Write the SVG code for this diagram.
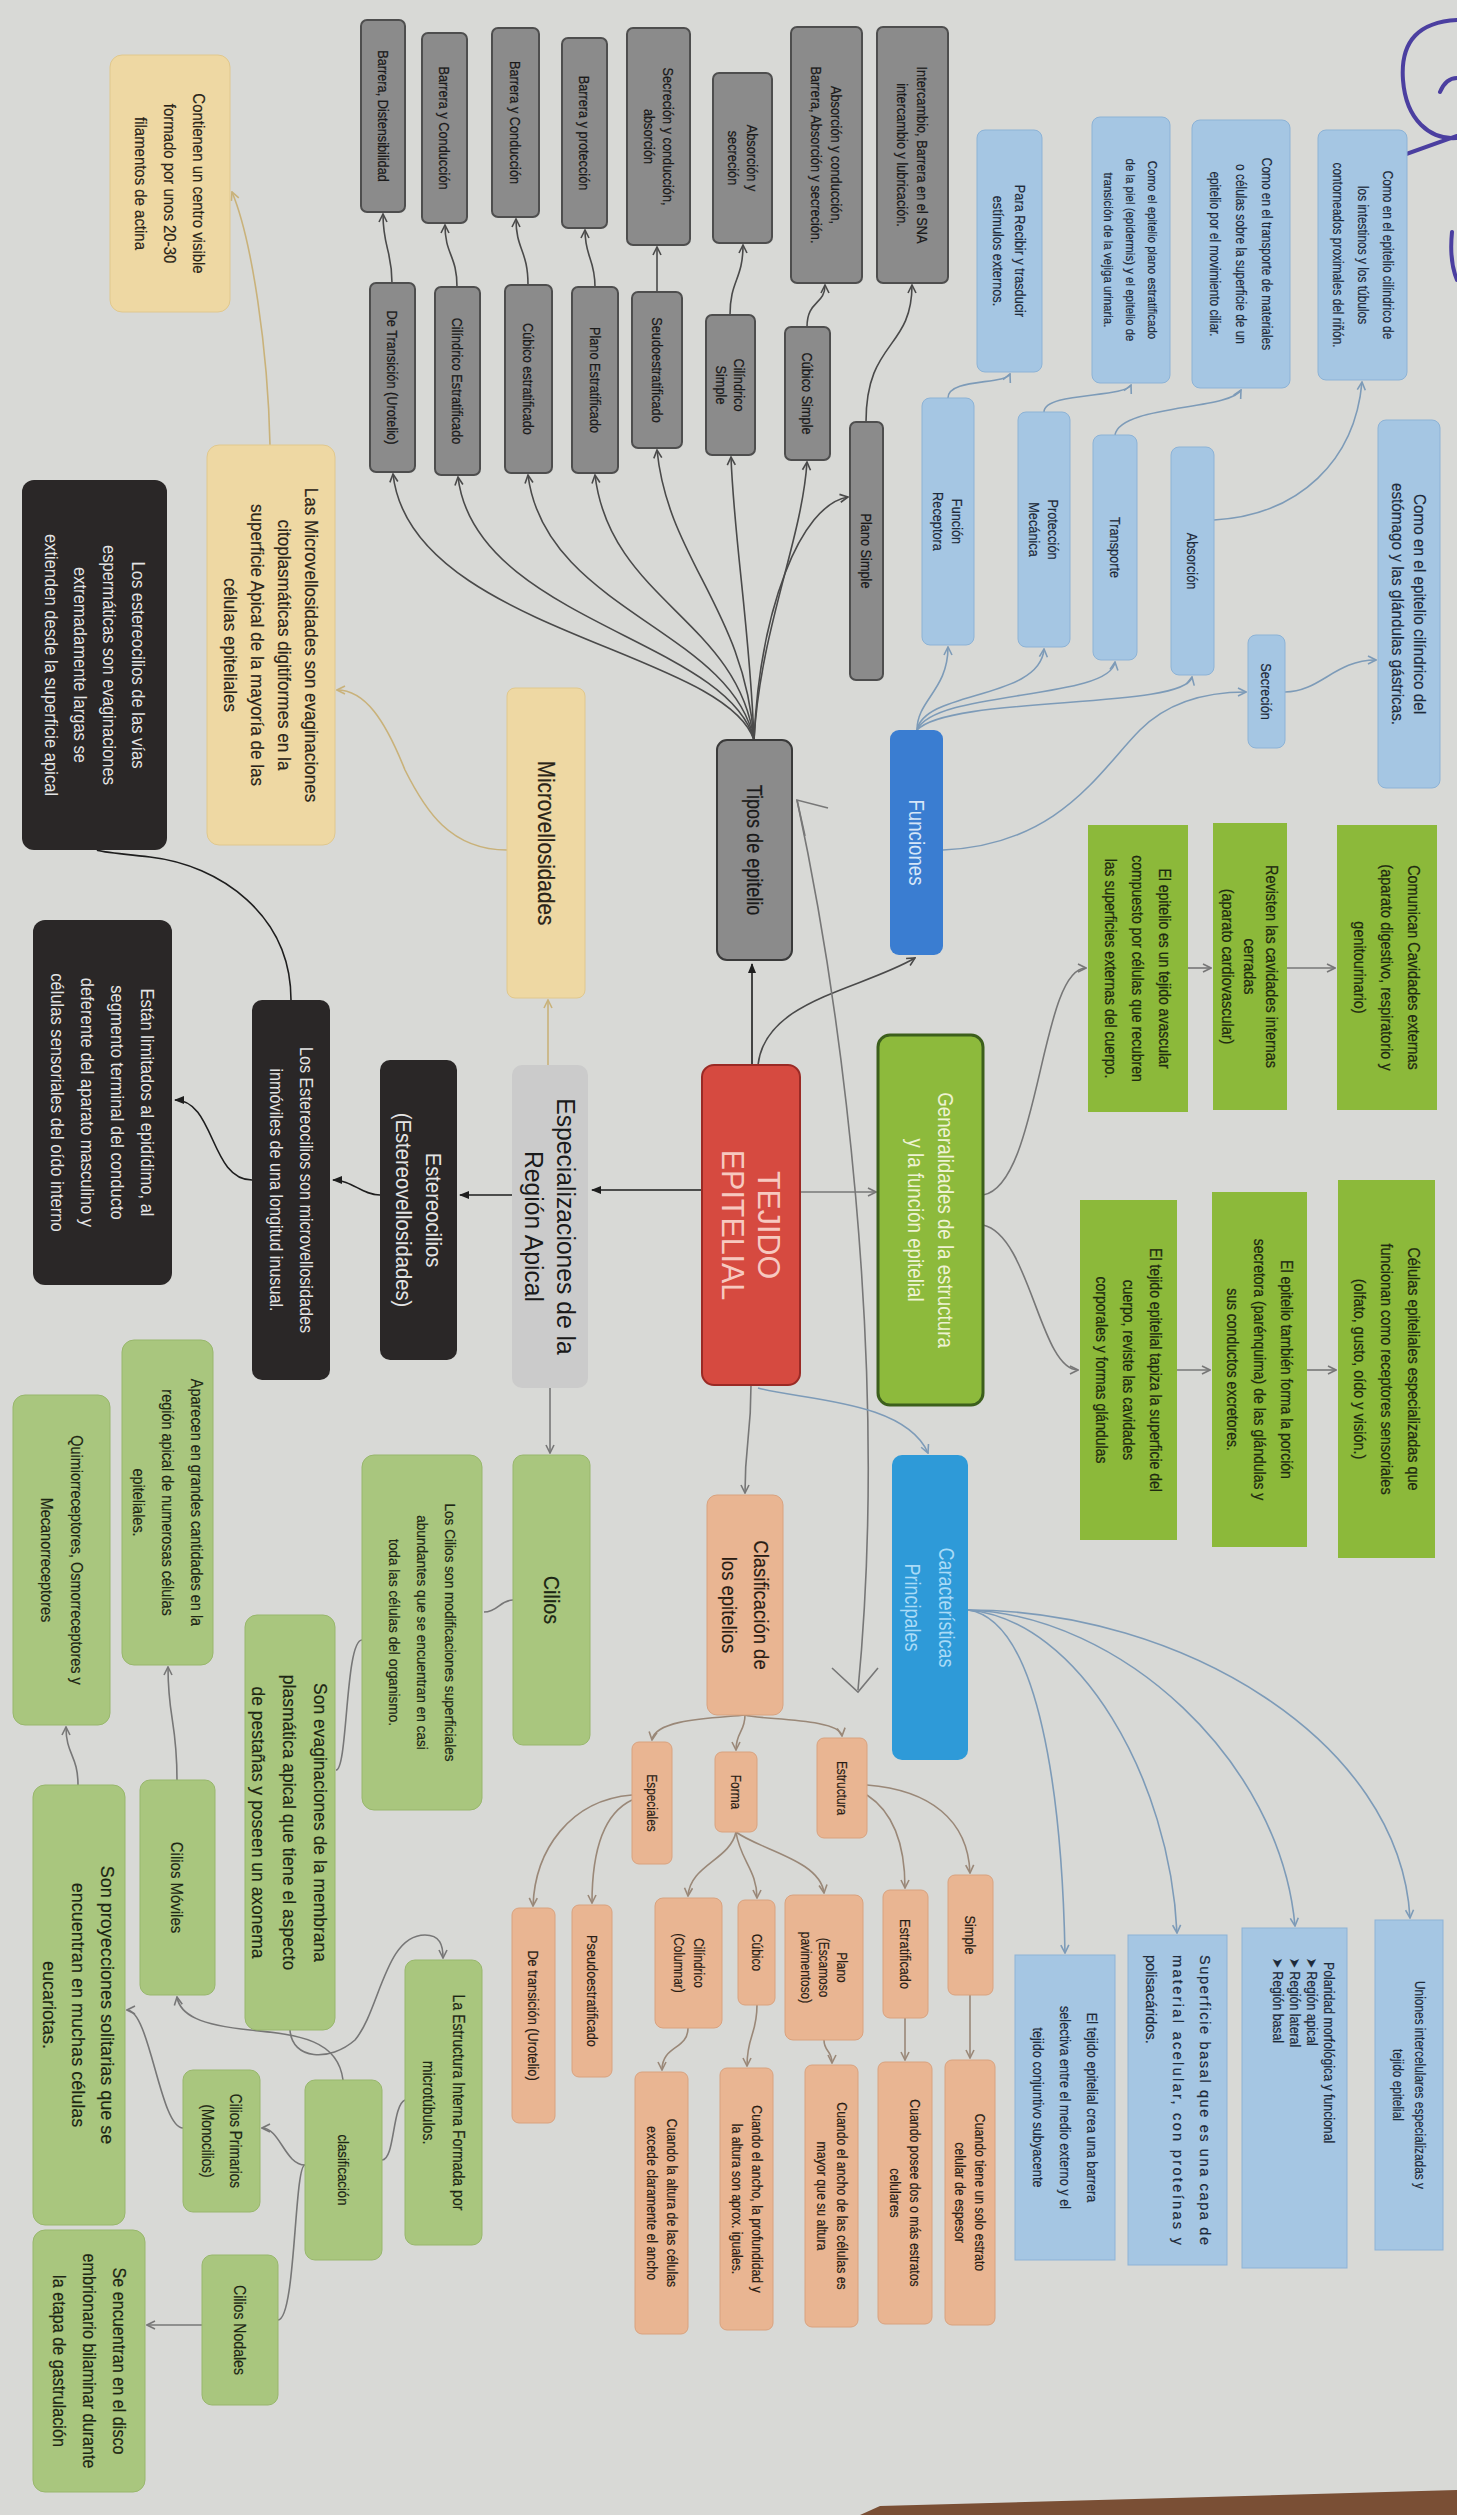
<svg xmlns="http://www.w3.org/2000/svg" width="1457" height="2515" viewBox="0 0 1457 2515">
<style>
text{font-family:"Liberation Sans",Arial,sans-serif;text-anchor:middle}
.g rect{fill:#8b8b8b;stroke:#4e4e4e;stroke-width:2}
.g text{fill:#1a1a1a;stroke:#1a1a1a;stroke-width:0.25}
.b rect{fill:#a5c6e3;stroke:#8db3d6;stroke-width:1}
.b text{fill:#1d2a3a;stroke:#1d2a3a;stroke-width:0.2}
.gr rect{fill:#8cb93a}
.gr text{fill:#1e2a10;stroke:#1e2a10;stroke-width:0.25}
.gp rect{fill:#a9c67e;stroke:#98b76c;stroke-width:1}
.gp text{fill:#1d2614;stroke:#1d2614;stroke-width:0.2}
.bk rect{fill:#2a2727}
.bk text{fill:#e4e4e4}
.y rect{fill:#eed8a3;stroke:#e0c88e;stroke-width:1}
.y text{fill:#2a2418;stroke:#2a2418;stroke-width:0.2}
.s rect{fill:#e9b592;stroke:#d9a27e;stroke-width:1}
.s text{fill:#2a1d14;stroke:#2a1d14;stroke-width:0.2}
.c path{fill:none;stroke-width:1.6}
.dk{stroke:#4a4a4a}
.bl{stroke:#7d9bb8}
.gy{stroke:#777}
.tn{stroke:#c9b27a}
.kk{stroke:#1e1e1e}
.br{stroke:#9a8878}
</style>
<defs>
<marker id="m-dk" viewBox="0 0 10 10" refX="9" refY="5" markerWidth="10" markerHeight="10" markerUnits="userSpaceOnUse" orient="auto"><path d="M1,1 L9,5 L1,9" fill="none" stroke="#4a4a4a" stroke-width="1.6"/></marker>
<marker id="m-bl" viewBox="0 0 10 10" refX="9" refY="5" markerWidth="10" markerHeight="10" markerUnits="userSpaceOnUse" orient="auto"><path d="M1,1 L9,5 L1,9" fill="none" stroke="#7d9bb8" stroke-width="1.6"/></marker>
<marker id="m-gy" viewBox="0 0 10 10" refX="9" refY="5" markerWidth="10" markerHeight="10" markerUnits="userSpaceOnUse" orient="auto"><path d="M1,1 L9,5 L1,9" fill="none" stroke="#777" stroke-width="1.6"/></marker>
<marker id="m-tn" viewBox="0 0 10 10" refX="9" refY="5" markerWidth="10" markerHeight="10" markerUnits="userSpaceOnUse" orient="auto"><path d="M1,1 L9,5 L1,9" fill="none" stroke="#c9b27a" stroke-width="1.6"/></marker>
<marker id="m-br" viewBox="0 0 10 10" refX="9" refY="5" markerWidth="10" markerHeight="10" markerUnits="userSpaceOnUse" orient="auto"><path d="M1,1 L9,5 L1,9" fill="none" stroke="#9a8878" stroke-width="1.6"/></marker>
<marker id="m-kk" viewBox="0 0 10 10" refX="9" refY="5" markerWidth="10" markerHeight="10" markerUnits="userSpaceOnUse" orient="auto"><path d="M0,1 L10,5 L0,9 z" fill="#1e1e1e"/></marker>
</defs>
<rect width="1457" height="2515" fill="#d8d9d6"/>
<polygon points="860,2515 880,2506 1457,2490 1457,2515" fill="#7a4f35"/>
<g id="pen" fill="none" stroke="#4b3fa0" stroke-width="4" stroke-linecap="round">
<path d="M1457,20 C1420,22 1400,40 1403,80 C1406,120 1430,140 1457,138"/>
<path d="M1457,136 L1356,172"/>
<path d="M1440,92 C1445,80 1452,78 1457,78"/>
<path d="M1452,232 C1450,252 1452,268 1457,280"/>
</g>

<g id="connectors" class="c">
<path class="dk" marker-end="url(#m-dk)" d="M754,740 C760,610 800,505 848,497"/>
<path class="dk" marker-end="url(#m-dk)" d="M754,740 C760,630 802,540 807,462"/>
<path class="dk" marker-end="url(#m-dk)" d="M754,740 C750,630 734,540 731,457"/>
<path class="dk" marker-end="url(#m-dk)" d="M754,740 C745,610 668,560 657,450"/>
<path class="dk" marker-end="url(#m-dk)" d="M754,740 C738,620 610,600 595,475"/>
<path class="dk" marker-end="url(#m-dk)" d="M754,740 C732,630 545,610 528,475"/>
<path class="dk" marker-end="url(#m-dk)" d="M754,740 C728,640 475,620 458,477"/>
<path class="dk" marker-end="url(#m-dk)" d="M754,740 C724,650 410,630 393,474"/>
<path class="dk" marker-end="url(#m-dk)" d="M392,283 C392,250 383,248 383,214"/>
<path class="dk" marker-end="url(#m-dk)" d="M457,287 C457,255 445,255 445,225"/>
<path class="dk" marker-end="url(#m-dk)" d="M528,285 C528,250 516,250 516,219"/>
<path class="dk" marker-end="url(#m-dk)" d="M595,287 C595,258 585,258 585,230"/>
<path class="dk" marker-end="url(#m-dk)" d="M657,292 L657,247"/>
<path class="dk" marker-end="url(#m-dk)" d="M730,315 C730,280 743,280 743,245"/>
<path class="dk" marker-end="url(#m-dk)" d="M807,327 C807,300 825,305 825,285"/>
<path class="dk" marker-end="url(#m-dk)" d="M866,422 C866,340 912,350 912,285"/>
<path class="bl" marker-end="url(#m-bl)" d="M917,730 C917,700 948,690 948,647"/>
<path class="bl" marker-end="url(#m-bl)" d="M917,730 C925,690 1040,700 1044,649"/>
<path class="bl" marker-end="url(#m-bl)" d="M917,730 C935,690 1110,700 1115,662"/>
<path class="bl" marker-end="url(#m-bl)" d="M917,730 C950,695 1185,710 1192,677"/>
<path class="bl" marker-end="url(#m-bl)" d="M943,850 C1060,845 1100,770 1140,730 C1170,700 1210,692 1246,692"/>
<path class="bl" marker-end="url(#m-bl)" d="M948,398 C948,378 1005,385 1010,374"/>
<path class="bl" marker-end="url(#m-bl)" d="M1044,412 C1044,392 1125,398 1131,385"/>
<path class="bl" marker-end="url(#m-bl)" d="M1115,435 C1120,405 1230,410 1241,390"/>
<path class="bl" marker-end="url(#m-bl)" d="M1214,520 C1300,515 1355,460 1362,382"/>
<path class="bl" marker-end="url(#m-bl)" d="M1285,692 C1320,692 1335,660 1376,660"/>
<path class="kk" stroke-width="3.5" marker-end="url(#m-kk)" d="M752,1065 L752,964"/>
<path class="dk" marker-end="url(#m-dk)" d="M758,1065 C765,1000 860,990 915,958"/>
<path class="kk" stroke-width="2.5" marker-end="url(#m-kk)" d="M702,1190 L592,1190"/>
<path class="gy" marker-end="url(#m-gy)" d="M800,1192 L876,1192"/>
<path class="gy" d="M797,800 C840,1000 890,1360 858,1690"/>
<path class="gy" d="M828,808 L797,800 L805,836"/>
<path class="gy" d="M832,1668 L858,1692 L878,1668"/>
<path class="gy" marker-end="url(#m-gy)" d="M751,1385 C751,1440 745,1440 745,1493"/>
<path class="bl" marker-end="url(#m-bl)" d="M758,1388 C800,1400 905,1400 928,1453"/>
<path class="gy" marker-end="url(#m-gy)" d="M983,1195 C1040,1185 1040,968 1086,968"/>
<path class="gy" marker-end="url(#m-gy)" d="M1188,968 L1211,968"/>
<path class="gy" marker-end="url(#m-gy)" d="M1287,968 L1335,968"/>
<path class="gy" marker-end="url(#m-gy)" d="M983,1225 C1030,1235 1040,1370 1078,1370"/>
<path class="gy" marker-end="url(#m-gy)" d="M1177,1370 L1210,1370"/>
<path class="gy" marker-end="url(#m-gy)" d="M1307,1370 L1336,1370"/>
<path class="tn" marker-end="url(#m-tn)" d="M548,1065 L548,1000"/>
<path class="tn" marker-end="url(#m-tn)" d="M507,850 C450,850 425,810 405,770 C385,720 365,690 337,690"/>
<path class="tn" marker-end="url(#m-tn)" d="M270,445 C268,350 252,240 232,192"/>
<path class="kk" marker-end="url(#m-kk)" d="M512,1195 L460,1195"/>
<path class="kk" marker-end="url(#m-kk)" d="M380,1195 C362,1195 352,1180 333,1180"/>
<path class="kk" marker-end="url(#m-kk)" d="M252,1180 C210,1180 215,1100 175,1100"/>
<path class="kk" d="M291,1000 C291,915 220,865 150,857 C115,853 100,852 97,850"/>
<path class="gy" marker-end="url(#m-gy)" d="M550,1388 L550,1453"/>
<path class="gy" d="M513,1600 C500,1600 498,1612 484,1612"/>
<path class="gy" d="M362,1640 C345,1640 348,1770 336,1770"/>
<path class="gy" marker-end="url(#m-gy)" d="M290,2030 C292,2060 330,2062 355,2040 C380,2010 385,1935 425,1935 C440,1935 443,1945 443,1958"/>
<path class="gy" d="M405,2100 C392,2105 395,2160 382,2160"/>
<path class="gy" marker-end="url(#m-gy)" d="M343,2080 C338,2040 300,2035 250,2030 C200,2025 180,2015 177,1997"/>
<path class="gy" marker-end="url(#m-gy)" d="M305,2165 C285,2165 280,2128 262,2128"/>
<path class="gy" d="M305,2165 C294,2165 296,2320 278,2320"/>
<path class="gy" marker-end="url(#m-gy)" d="M183,2128 C160,2128 150,2010 127,2010"/>
<path class="gy" marker-end="url(#m-gy)" d="M202,2325 L147,2325"/>
<path class="gy" marker-end="url(#m-gy)" d="M177,1780 C177,1720 168,1720 168,1667"/>
<path class="gy" marker-end="url(#m-gy)" d="M78,1785 C78,1755 66,1755 66,1727"/>
<path class="br" marker-end="url(#m-br)" d="M745,1715 C760,1720 840,1718 842,1736"/>
<path class="br" marker-end="url(#m-br)" d="M745,1715 C745,1732 736,1732 736,1750"/>
<path class="br" marker-end="url(#m-br)" d="M745,1715 C720,1718 655,1718 652,1740"/>
<path class="br" marker-end="url(#m-br)" d="M867,1785 C930,1790 968,1820 970,1873"/>
<path class="br" marker-end="url(#m-br)" d="M867,1795 C890,1810 905,1840 905,1888"/>
<path class="br" marker-end="url(#m-br)" d="M736,1832 C760,1850 820,1860 824,1893"/>
<path class="br" marker-end="url(#m-br)" d="M736,1832 C740,1860 757,1870 757,1898"/>
<path class="br" marker-end="url(#m-br)" d="M736,1832 C730,1860 690,1865 688,1896"/>
<path class="br" marker-end="url(#m-br)" d="M632,1800 C600,1815 592,1860 592,1903"/>
<path class="br" marker-end="url(#m-br)" d="M632,1795 C570,1800 535,1850 533,1906"/>
<path class="br" marker-end="url(#m-br)" d="M970,1995 L970,2058"/>
<path class="br" marker-end="url(#m-br)" d="M905,2018 L905,2060"/>
<path class="br" marker-end="url(#m-br)" d="M824,2040 C824,2052 832,2050 832,2063"/>
<path class="br" marker-end="url(#m-br)" d="M757,2005 C757,2035 747,2035 747,2066"/>
<path class="br" marker-end="url(#m-br)" d="M688,2028 C688,2050 662,2045 662,2070"/>
<path class="bl" marker-end="url(#m-bl)" d="M968,1610 C1040,1620 1062,1800 1065,1953"/>
<path class="bl" marker-end="url(#m-bl)" d="M968,1610 C1080,1620 1170,1780 1177,1933"/>
<path class="bl" marker-end="url(#m-bl)" d="M968,1610 C1120,1615 1280,1760 1295,1926"/>
<path class="bl" marker-end="url(#m-bl)" d="M968,1610 C1180,1610 1400,1740 1410,1918"/>
</g>

<g id="n-barrera-dist" class="g"><rect x="361" y="20" width="44" height="192" rx="6"/><text font-size="15" transform="translate(383 116) rotate(90) scale(0.85 1)"><tspan x="0" y="5">Barrera, Distensibilidad</tspan></text></g>
<g id="n-barrera-cond-a" class="g"><rect x="422" y="33" width="45" height="190" rx="6"/><text font-size="15" transform="translate(444.5 128) rotate(90) scale(0.85 1)"><tspan x="0" y="5">Barrera y Conducción</tspan></text></g>
<g id="n-barrera-cond-b" class="g"><rect x="492" y="28" width="47" height="189" rx="6"/><text font-size="15" transform="translate(515.5 122.5) rotate(90) scale(0.85 1)"><tspan x="0" y="5">Barrera y Conducción</tspan></text></g>
<g id="n-barrera-prot" class="g"><rect x="562" y="38" width="45" height="190" rx="6"/><text font-size="15" transform="translate(584.5 133) rotate(90) scale(0.85 1)"><tspan x="0" y="5">Barrera y protección</tspan></text></g>
<g id="n-secr-cond" class="g"><rect x="627" y="28" width="63" height="217" rx="6"/><text font-size="15" transform="translate(658.5 136.5) rotate(90) scale(0.85 1)"><tspan x="0" y="-4.25">Secreción y conducción,</tspan><tspan x="0" y="14.75">absorción</tspan></text></g>
<g id="n-abs-secr" class="g"><rect x="713" y="73" width="59" height="170" rx="6"/><text font-size="15" transform="translate(742.5 158) rotate(90) scale(0.85 1)"><tspan x="0" y="-4.25">Absorción y</tspan><tspan x="0" y="14.75">secreción</tspan></text></g>
<g id="n-abs-cond" class="g"><rect x="791" y="27" width="71" height="256" rx="6"/><text font-size="15" transform="translate(826.5 155) rotate(90) scale(0.85 1)"><tspan x="0" y="-4.75">Absorción y conducción,</tspan><tspan x="0" y="15.25">Barrera, Absorción y secreción.</tspan></text></g>
<g id="n-intercambio" class="g"><rect x="877" y="27" width="71" height="256" rx="6"/><text font-size="15" transform="translate(912.5 155) rotate(90) scale(0.85 1)"><tspan x="0" y="-4.75">Intercambio, Barrera en el SNA</tspan><tspan x="0" y="15.25">intercambio y lubricación.</tspan></text></g>
<g id="n-transicion" class="g"><rect x="370" y="283" width="45" height="189" rx="6"/><text font-size="15" transform="translate(392.5 377.5) rotate(90) scale(0.85 1)"><tspan x="0" y="5">De Transición (Urotelio)</tspan></text></g>
<g id="n-cil-estrat" class="g"><rect x="435" y="287" width="45" height="188" rx="6"/><text font-size="15" transform="translate(457.5 381) rotate(90) scale(0.85 1)"><tspan x="0" y="5">Cilíndrico Estratificado</tspan></text></g>
<g id="n-cub-estrat" class="g"><rect x="505" y="285" width="47" height="188" rx="6"/><text font-size="15" transform="translate(528.5 379) rotate(90) scale(0.85 1)"><tspan x="0" y="5">Cúbico estratificado</tspan></text></g>
<g id="n-plano-estrat" class="g"><rect x="572" y="287" width="46" height="186" rx="6"/><text font-size="15" transform="translate(595 380) rotate(90) scale(0.85 1)"><tspan x="0" y="5">Plano Estratificado</tspan></text></g>
<g id="n-seudo" class="g"><rect x="632" y="292" width="50" height="156" rx="6"/><text font-size="15" transform="translate(657 370) rotate(90) scale(0.85 1)"><tspan x="0" y="5">Seudoestratificado</tspan></text></g>
<g id="n-cil-simple" class="g"><rect x="706" y="315" width="49" height="140" rx="6"/><text font-size="15" transform="translate(730.5 385) rotate(90) scale(0.85 1)"><tspan x="0" y="-3.75">Cilíndrico</tspan><tspan x="0" y="14.25">Simple</tspan></text></g>
<g id="n-cub-simple" class="g"><rect x="785" y="327" width="45" height="133" rx="6"/><text font-size="15" transform="translate(807.5 393.5) rotate(90) scale(0.85 1)"><tspan x="0" y="5">Cúbico Simple</tspan></text></g>
<g id="n-plano-simple" class="g"><rect x="850" y="422" width="33" height="258" rx="6"/><text font-size="15" transform="translate(866.5 551) rotate(90) scale(0.85 1)"><tspan x="0" y="5">Plano Simple</tspan></text></g>
<g id="n-tipos" class="g"><rect x="717" y="740" width="75" height="220" rx="10" style="stroke:#3a3a3a"/><text font-size="22" transform="translate(754.5 850) rotate(90) scale(0.82 1)"><tspan x="0" y="7.7">Tipos de epitelio</tspan></text></g>

<g id="n-funciones"><rect x="890" y="730" width="53" height="225" rx="9" fill="#3a7dd1"/><text font-size="22" fill="#d6e6f8" transform="translate(916.5 842.5) rotate(90) scale(0.85 1)"><tspan x="0" y="7.7">Funciones</tspan></text></g>
<g id="n-receptora" class="b"><rect x="922" y="398" width="52" height="247" rx="8"/><text font-size="15" transform="translate(948 521.5) rotate(90) scale(0.85 1)"><tspan x="0" y="-4.25">Función</tspan><tspan x="0" y="14.75">Receptora</tspan></text></g>
<g id="n-proteccion" class="b"><rect x="1018" y="412" width="52" height="235" rx="8"/><text font-size="15" transform="translate(1044 529.5) rotate(90) scale(0.85 1)"><tspan x="0" y="-4.25">Protección</tspan><tspan x="0" y="14.75">Mecánica</tspan></text></g>
<g id="n-transporte" class="b"><rect x="1093" y="435" width="44" height="225" rx="8"/><text font-size="15" transform="translate(1115 547.5) rotate(90) scale(0.85 1)"><tspan x="0" y="5">Transporte</tspan></text></g>
<g id="n-absorcion" class="b"><rect x="1171" y="447" width="43" height="228" rx="8"/><text font-size="15" transform="translate(1192.5 561) rotate(90) scale(0.85 1)"><tspan x="0" y="5">Absorción</tspan></text></g>
<g id="n-secrecion" class="b"><rect x="1248" y="635" width="37" height="113" rx="8"/><text font-size="15" transform="translate(1266.5 691.5) rotate(90) scale(0.85 1)"><tspan x="0" y="5">Secreción</tspan></text></g>
<g id="n-recibir" class="b"><rect x="977" y="130" width="65" height="242" rx="8"/><text font-size="15" transform="translate(1009.5 251) rotate(90) scale(0.85 1)"><tspan x="0" y="-5.75">Para Recibir y trasducir</tspan><tspan x="0" y="16.25">estímulos externos.</tspan></text></g>
<g id="n-plano-ej" class="b"><rect x="1092" y="117" width="78" height="266" rx="8"/><text font-size="13.5" transform="translate(1131 250) rotate(90) scale(0.85 1)"><tspan x="0" y="-17.3">Como el epitelio plano estratificado</tspan><tspan x="0" y="4.7">de la piel (epidermis) y el epitelio de</tspan><tspan x="0" y="26.7">transición de la vejiga urinaria.</tspan></text></g>
<g id="n-transp-ej" class="b"><rect x="1192" y="120" width="98" height="268" rx="8"/><text font-size="14" transform="translate(1241 254) rotate(90) scale(0.85 1)"><tspan x="0" y="-21.1">Como en el transporte de materiales</tspan><tspan x="0" y="4.9">o células sobre la superficie de un</tspan><tspan x="0" y="30.9">epitelio por el movimiento ciliar.</tspan></text></g>
<g id="n-abs-ej" class="b"><rect x="1318" y="130" width="89" height="250" rx="8"/><text font-size="14" transform="translate(1362.5 255) rotate(90) scale(0.85 1)"><tspan x="0" y="-20.1">Como en el epitelio cilíndrico de</tspan><tspan x="0" y="4.9">los intestinos y los túbulos</tspan><tspan x="0" y="29.9">contorneados proximales del riñón.</tspan></text></g>
<g id="n-secr-ej" class="b"><rect x="1378" y="420" width="62" height="368" rx="8"/><text font-size="17" transform="translate(1409 604) rotate(90) scale(0.9 1)"><tspan x="0" y="-5.05">Como en el epitelio cilíndrico del</tspan><tspan x="0" y="16.95">estómago y las glándulas gástricas.</tspan></text></g>

<g id="n-tejido"><rect x="702" y="1065" width="98" height="320" rx="12" fill="#d64a40" stroke="#9a2a25" stroke-width="2"/><text font-size="32" fill="#f7c9c0" transform="translate(751 1225) rotate(90) scale(0.95 1)"><tspan x="0" y="-6.8">TEJIDO</tspan><tspan x="0" y="29.2">EPITELIAL</tspan></text></g>
<g id="n-generalidades"><rect x="878" y="1035" width="105" height="370" rx="12" fill="#8dba3c" stroke="#3c5f1c" stroke-width="3"/><text font-size="22" fill="#eef2d2" transform="translate(930.5 1220) rotate(90) scale(0.85 1)"><tspan x="0" y="-7.3">Generalidades de la estructura</tspan><tspan x="0" y="22.7">y la función epitelial</tspan></text></g>
<g id="n-comunican" class="gr"><rect x="1337" y="825" width="100" height="285"/><text font-size="17" transform="translate(1387 967.5) rotate(90) scale(0.85 1)"><tspan x="0" y="-21.1">Comunican Cavidades externas</tspan><tspan x="0" y="5.9">(aparato digestivo, respiratorio y</tspan><tspan x="0" y="32.9">genitourinario)</tspan></text></g>
<g id="n-revisten" class="gr"><rect x="1213" y="823" width="74" height="287"/><text font-size="17" transform="translate(1250 966.5) rotate(90) scale(0.85 1)"><tspan x="0" y="-16.1">Revisten las cavidades internas</tspan><tspan x="0" y="5.9">cerradas</tspan><tspan x="0" y="27.9">(aparato cardiovascular)</tspan></text></g>
<g id="n-avascular" class="gr"><rect x="1088" y="825" width="100" height="287"/><text font-size="16.5" transform="translate(1138 968.5) rotate(90) scale(0.85 1)"><tspan x="0" y="-21.2">El epitelio es un tejido avascular</tspan><tspan x="0" y="5.8">compuesto por células que recubren</tspan><tspan x="0" y="32.8">las superficies externas del cuerpo.</tspan></text></g>
<g id="n-celulas" class="gr"><rect x="1338" y="1180" width="97" height="378"/><text font-size="17" transform="translate(1386.5 1369) rotate(90) scale(0.85 1)"><tspan x="0" y="-21.1">Células epiteliales especializadas que</tspan><tspan x="0" y="5.9">funcionan como receptores sensoriales</tspan><tspan x="0" y="32.9">(olfato, gusto, oído y visión.)</tspan></text></g>
<g id="n-secretora" class="gr"><rect x="1212" y="1192" width="95" height="355"/><text font-size="16.5" transform="translate(1259.5 1369.5) rotate(90) scale(0.85 1)"><tspan x="0" y="-21.2">El epitelio también forma la porción</tspan><tspan x="0" y="5.8">secretora (parénquima) de las glándulas y</tspan><tspan x="0" y="32.8">sus conductos excretores.</tspan></text></g>
<g id="n-tapiza" class="gr"><rect x="1080" y="1200" width="97" height="340"/><text font-size="16.5" transform="translate(1128.5 1370) rotate(90) scale(0.85 1)"><tspan x="0" y="-21.2">El tejido epitelial tapiza la superficie del</tspan><tspan x="0" y="5.8">cuerpo, reviste las cavidades</tspan><tspan x="0" y="32.8">corporales y formas glándulas</tspan></text></g>
<g id="n-especializaciones"><rect x="512" y="1065" width="76" height="323" rx="10" fill="#cbcbcb"/><text font-size="26" fill="#1a1a1a" transform="translate(550 1226.5) rotate(90) scale(0.95 1)"><tspan x="0" y="-6.9">Especializaciones de la</tspan><tspan x="0" y="25.1">Región Apical</tspan></text></g>

<g id="n-microvellosidades" class="y"><rect x="507" y="688" width="78" height="310" rx="8"/><text font-size="23" transform="translate(546 843) rotate(90) scale(0.9 1)"><tspan x="0" y="8">Microvellosidades</tspan></text></g>
<g id="n-micro-def" class="y"><rect x="207" y="445" width="128" height="400" rx="12"/><text font-size="18" transform="translate(271 645) rotate(90) scale(0.95 1)"><tspan x="0" y="-34.2">Las Microvellosidades son evaginaciones</tspan><tspan x="0" y="-7.2">citoplasmáticas digitiformes en la</tspan><tspan x="0" y="19.8">superficie Apical de la mayoría de las</tspan><tspan x="0" y="46.8">células epiteliales</tspan></text></g>
<g id="n-contienen" class="y"><rect x="110" y="55" width="120" height="257" rx="12"/><text font-size="17" transform="translate(170 183.5) rotate(90) scale(0.88 1)"><tspan x="0" y="-23.05">Contienen un centro visible</tspan><tspan x="0" y="5.95">formado por unos 20-30</tspan><tspan x="0" y="34.95">filamentos de actina</tspan></text></g>
<g id="n-estereocilios" class="bk"><rect x="380" y="1060" width="77" height="300" rx="10"/><text font-size="22" transform="translate(418.5 1210) rotate(90) scale(0.92 1)"><tspan x="0" y="-7.3">Estereocilios</tspan><tspan x="0" y="22.7">(Estereovellosidades)</tspan></text></g>
<g id="n-estereo-def" class="bk"><rect x="252" y="1000" width="78" height="380" rx="10"/><text font-size="18" transform="translate(291 1190) rotate(90) scale(0.9 1)"><tspan x="0" y="-8.7">Los Estereocilios son microvellosidades</tspan><tspan x="0" y="21.3">inmóviles de una longitud inusual.</tspan></text></g>
<g id="n-limitados" class="bk"><rect x="33" y="920" width="139" height="365" rx="12"/><text font-size="18" transform="translate(102.5 1102.5) rotate(90) scale(0.92 1)"><tspan x="0" y="-38.7">Están limitados al epidídimo, al</tspan><tspan x="0" y="-8.7">segmento terminal del conducto</tspan><tspan x="0" y="21.3">deferente del aparato masculino y</tspan><tspan x="0" y="51.3">células sensoriales del oído interno</tspan></text></g>
<g id="n-vias" class="bk"><rect x="22" y="480" width="145" height="370" rx="12"/><text font-size="18" transform="translate(94.5 665) rotate(90) scale(0.92 1)"><tspan x="0" y="-37.2">Los estereocilios de las vías</tspan><tspan x="0" y="-8.2">espermáticas son evaginaciones</tspan><tspan x="0" y="20.8">extremadamente largas se</tspan><tspan x="0" y="49.8">extienden desde la superficie apical</tspan></text></g>

<g id="n-cilios" class="gp"><rect x="513" y="1455" width="77" height="290" rx="10"/><text font-size="22" transform="translate(551.5 1600) rotate(90) scale(0.9 1)"><tspan x="0" y="7.7">Cilios</tspan></text></g>
<g id="n-cilios-def" class="gp"><rect x="362" y="1455" width="120" height="355" rx="12"/><text font-size="15.5" transform="translate(422 1632.5) rotate(90) scale(0.88 1)"><tspan x="0" y="-22.6">Los Cilios son modificaciones superficiales</tspan><tspan x="0" y="5.4">abundantes que se encuentran en casi</tspan><tspan x="0" y="33.4">toda las células del organismo.</tspan></text></g>
<g id="n-aparecen" class="gp"><rect x="122" y="1340" width="91" height="325" rx="12"/><text font-size="17" transform="translate(167.5 1502.5) rotate(90) scale(0.85 1)"><tspan x="0" y="-23.05">Aparecen en grandes cantidades en la</tspan><tspan x="0" y="5.95">región apical de numerosas células</tspan><tspan x="0" y="34.95">epiteliales.</tspan></text></g>
<g id="n-quimio" class="gp"><rect x="13" y="1395" width="97" height="330" rx="12"/><text font-size="17" transform="translate(61.5 1560) rotate(90) scale(0.85 1)"><tspan x="0" y="-9.05">Quimiorreceptores, Osmorreceptores y</tspan><tspan x="0" y="20.95">Mecanorreceptores</tspan></text></g>
<g id="n-evaginaciones" class="gp"><rect x="245" y="1615" width="90" height="415" rx="12"/><text font-size="19" transform="translate(290 1822.5) rotate(90) scale(0.92 1)"><tspan x="0" y="-24.35">Son evaginaciones de la membrana</tspan><tspan x="0" y="6.65">plasmática apical que tiene el aspecto</tspan><tspan x="0" y="37.65">de pestañas y poseen un axonema</tspan></text></g>
<g id="n-moviles" class="gp"><rect x="140" y="1780" width="75" height="215" rx="10"/><text font-size="17" transform="translate(177.5 1887.5) rotate(90) scale(0.88 1)"><tspan x="0" y="6">Cilios Móviles</tspan></text></g>
<g id="n-proyecciones" class="gp"><rect x="33" y="1785" width="92" height="440" rx="12"/><text font-size="19" transform="translate(79 2005) rotate(90) scale(0.95 1)"><tspan x="0" y="-22.35">Son proyecciones solitarias que se</tspan><tspan x="0" y="6.65">encuentran en muchas células</tspan><tspan x="0" y="35.65">eucariotas.</tspan></text></g>
<g id="n-estructura-int" class="gp"><rect x="405" y="1960" width="77" height="285" rx="10"/><text font-size="16" transform="translate(443.5 2102.5) rotate(90) scale(0.88 1)"><tspan x="0" y="-9.4">La Estructura Interna Formada por</tspan><tspan x="0" y="20.6">microtúbulos.</tspan></text></g>
<g id="n-clasif-cilios" class="gp"><rect x="305" y="2080" width="77" height="180" rx="10"/><text font-size="15" transform="translate(343.5 2170) rotate(90) scale(0.88 1)"><tspan x="0" y="5.25">clasificación</tspan></text></g>
<g id="n-primarios" class="gp"><rect x="183" y="2070" width="77" height="142" rx="10"/><text font-size="16" transform="translate(221.5 2141) rotate(90) scale(0.85 1)"><tspan x="0" y="-8.4">Cilios Primarios</tspan><tspan x="0" y="19.6">(Monocilios)</tspan></text></g>
<g id="n-nodales" class="gp"><rect x="202" y="2255" width="76" height="150" rx="10"/><text font-size="16" transform="translate(240 2330) rotate(90) scale(0.88 1)"><tspan x="0" y="5.6">Cilios Nodales</tspan></text></g>
<g id="n-gastrulacion" class="gp"><rect x="33" y="2230" width="112" height="262" rx="12"/><text font-size="18" transform="translate(89 2361) rotate(90) scale(0.9 1)"><tspan x="0" y="-23.7">Se encuentran en el disco</tspan><tspan x="0" y="6.3">embrionario bilaminar durante</tspan><tspan x="0" y="36.3">la etapa de gastrulación</tspan></text></g>

<g id="n-clasificacion" class="s"><rect x="707" y="1495" width="76" height="220" rx="10"/><text font-size="21" transform="translate(745 1605) rotate(90) scale(0.88 1)"><tspan x="0" y="-8.65">Clasificación de</tspan><tspan x="0" y="23.35">los epitelios</tspan></text></g>
<g id="n-estructura" class="s"><rect x="817" y="1738" width="50" height="100" rx="7"/><text font-size="14" transform="translate(842 1788) rotate(90) scale(0.85 1)"><tspan x="0" y="4.9">Estructura</tspan></text></g>
<g id="n-forma" class="s"><rect x="715" y="1752" width="42" height="80" rx="7"/><text font-size="14" transform="translate(736 1792) rotate(90) scale(0.85 1)"><tspan x="0" y="4.9">Forma</tspan></text></g>
<g id="n-especiales" class="s"><rect x="632" y="1742" width="40" height="122" rx="7"/><text font-size="14" transform="translate(652 1803) rotate(90) scale(0.85 1)"><tspan x="0" y="4.9">Especiales</tspan></text></g>
<g id="n-simple" class="s"><rect x="948" y="1875" width="45" height="120" rx="7"/><text font-size="15" transform="translate(970.5 1935) rotate(90) scale(0.85 1)"><tspan x="0" y="5.25">Simple</tspan></text></g>
<g id="n-estratificado" class="s"><rect x="883" y="1890" width="45" height="128" rx="7"/><text font-size="15" transform="translate(905.5 1954) rotate(90) scale(0.85 1)"><tspan x="0" y="5.25">Estratificado</tspan></text></g>
<g id="n-plano" class="s"><rect x="785" y="1895" width="78" height="145" rx="8"/><text font-size="14" transform="translate(824 1967.5) rotate(90) scale(0.85 1)"><tspan x="0" y="-13.1">Plano</tspan><tspan x="0" y="4.9">(Escamoso</tspan><tspan x="0" y="22.9">pavimentoso)</tspan></text></g>
<g id="n-cubico" class="s"><rect x="738" y="1900" width="37" height="105" rx="7"/><text font-size="14" transform="translate(756.5 1952.5) rotate(90) scale(0.85 1)"><tspan x="0" y="4.9">Cúbico</tspan></text></g>
<g id="n-cilindrico" class="s"><rect x="655" y="1898" width="67" height="130" rx="8"/><text font-size="14" transform="translate(688.5 1963) rotate(90) scale(0.85 1)"><tspan x="0" y="-5.1">Cilíndrico</tspan><tspan x="0" y="14.9">(Columnar)</tspan></text></g>
<g id="n-pseudo" class="s"><rect x="572" y="1905" width="40" height="172" rx="7"/><text font-size="15" transform="translate(592 1991) rotate(90) scale(0.85 1)"><tspan x="0" y="5.25">Pseudoestratificado</tspan></text></g>
<g id="n-de-transicion" class="s"><rect x="512" y="1908" width="43" height="215" rx="7"/><text font-size="15" transform="translate(533.5 2015.5) rotate(90) scale(0.85 1)"><tspan x="0" y="5.25">De transición (Urotelio)</tspan></text></g>
<g id="n-cuando-tiene" class="s"><rect x="945" y="2060" width="50" height="265" rx="7"/><text font-size="14.5" transform="translate(970 2192.5) rotate(90) scale(0.85 1)"><tspan x="0" y="-5.1">Cuando tiene un solo estrato</tspan><tspan x="0" y="14.9">celular de espesor</tspan></text></g>
<g id="n-cuando-posee" class="s"><rect x="878" y="2062" width="54" height="262" rx="7"/><text font-size="14.5" transform="translate(905 2193) rotate(90) scale(0.85 1)"><tspan x="0" y="-5.1">Cuando posee dos o más estratos</tspan><tspan x="0" y="14.9">celulares</tspan></text></g>
<g id="n-cuando-ancho" class="s"><rect x="805" y="2065" width="53" height="262" rx="7"/><text font-size="14.5" transform="translate(831.5 2196) rotate(90) scale(0.85 1)"><tspan x="0" y="-5.1">Cuando el ancho de las células es</tspan><tspan x="0" y="14.9">mayor que su altura</tspan></text></g>
<g id="n-cuando-iguales" class="s"><rect x="720" y="2068" width="53" height="262" rx="7"/><text font-size="14.5" transform="translate(746.5 2199) rotate(90) scale(0.85 1)"><tspan x="0" y="-5.1">Cuando el ancho, la profundidad y</tspan><tspan x="0" y="14.9">la altura son aprox. iguales.</tspan></text></g>
<g id="n-cuando-altura" class="s"><rect x="635" y="2072" width="53" height="262" rx="7"/><text font-size="14.5" transform="translate(661.5 2203) rotate(90) scale(0.85 1)"><tspan x="0" y="-5.1">Cuando la altura de las células</tspan><tspan x="0" y="14.9">excede claramente el ancho</tspan></text></g>

<g id="n-caracteristicas"><rect x="892" y="1455" width="76" height="305" rx="10" fill="#2e9ad8"/><text font-size="22" fill="#a9dbf7" transform="translate(930 1607.5) rotate(90) scale(0.82 1)"><tspan x="0" y="-9.3">Características</tspan><tspan x="0" y="24.7">Principales</tspan></text></g>
<g id="n-uniones" class="b"><rect x="1375" y="1920" width="68" height="330"/><text font-size="14.5" transform="translate(1409 2085) rotate(90) scale(0.82 1)"><tspan x="0" y="-6.1">Uniones intercelulares especializadas y</tspan><tspan x="0" y="15.9">tejido epitelial</tspan></text></g>
<g id="n-polaridad" class="b"><rect x="1242" y="1928" width="105" height="340"/><text font-size="14.5" style="text-anchor:start" transform="translate(1294.5 2098) rotate(90) scale(0.85 1)"><tspan x="-160" y="-29.1">Polaridad morfológica y funcional</tspan><tspan x="-165" y="-12.1">➤ Región apical</tspan><tspan x="-165" y="4.9">➤ Región lateral</tspan><tspan x="-165" y="21.9">➤ Región basal</tspan></text></g>
<g id="n-superficie" class="b"><rect x="1128" y="1935" width="99" height="330"/><text font-size="14.5" style="text-anchor:start" transform="translate(1177.5 2100) rotate(90)"><tspan x="-145" y="-22.1" textLength="290" lengthAdjust="spacing">Superficie basal que es una capa de</tspan><tspan x="-145" y="4.9" textLength="290" lengthAdjust="spacing">material acelular, con proteínas y</tspan><tspan x="-145" y="31.9">polisacáridos.</tspan></text></g>
<g id="n-barrera-sel" class="b"><rect x="1015" y="1955" width="100" height="305"/><text font-size="15" transform="translate(1065 2107.5) rotate(90) scale(0.85 1)"><tspan x="0" y="-21.9">El tejido epitelial crea una barrera</tspan><tspan x="0" y="5.1">selectiva entre el medio externo y el</tspan><tspan x="0" y="32.1">tejido conjuntivo subyacente</tspan></text></g>
</svg>
